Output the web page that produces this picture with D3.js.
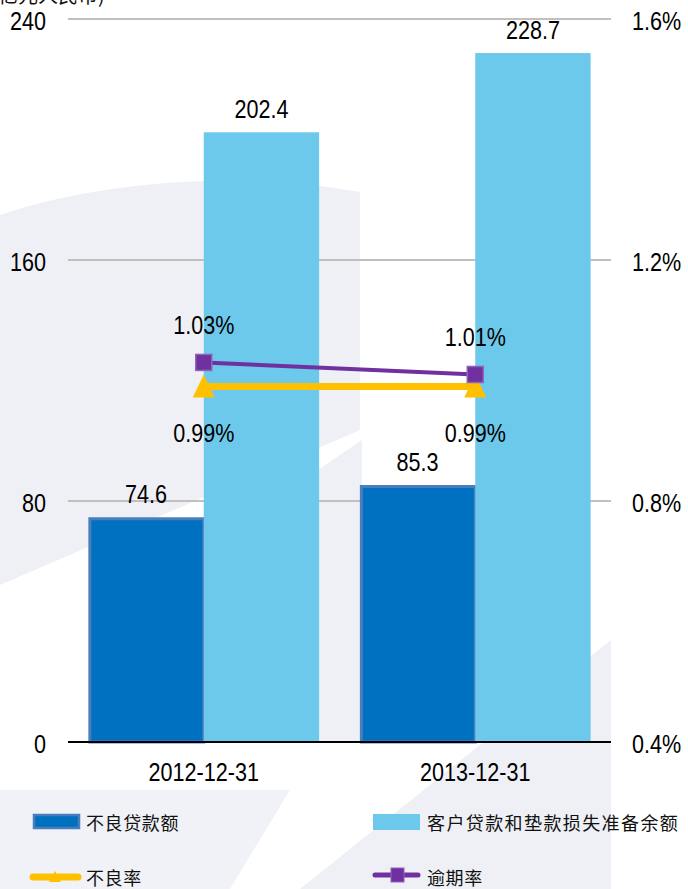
<!DOCTYPE html>
<html>
<head>
<meta charset="utf-8">
<script src="https://cdn.jsdelivr.net/npm/d3@7/dist/d3.min.js"></script>
<style>
html,body{margin:0;padding:0;background:#fff;}
svg{display:block;}
.num{font-family:"Liberation Sans",Arial,sans-serif;font-size:26px;fill:#000;}
.cjk{font-family:"Noto Sans CJK SC",sans-serif;font-size:18px;fill:#111;}
</style>
</head>
<body>
<svg id="chart" width="688" height="889"></svg>
<script>
const categories = ["2012-12-31", "2013-12-31"];
const nplAmount = [74.6, 85.3];
const provision = [202.4, 228.7];
const nplRatio = [0.99, 0.99];
const overdueRatio = [1.03, 1.01];
const leftTicks = [0, 80, 160, 240];
const rightTicks = [0.4, 0.8, 1.2, 1.6];
const seriesNames = ["不良贷款额", "客户贷款和垫款损失准备余额", "不良率", "逾期率"];
const unitLabel = "亿元人民币)";

(function () {
const svg = d3.select("#chart");
const pL = 68, pR = 611, pT = 19, pB = 742;
const SX = 0.83; // narrow look of the reference's number font

// place a number text with horizontal compression
function place(sel, xf, yf) {
  return sel.attr("class", "num")
    .attr("transform", (d, i) => `translate(${xf(d, i)},${yf(d, i)}) scale(${SX},1)`);
}

// faint watermark background
const bg = svg.append("g");
bg.append("path").attr("d", "M0,215 C110,178 250,172 360,192 L360,430 L0,585 Z").attr("fill", "#eef0f6");
bg.append("path").attr("d", "M300,889 L611,640 L611,889 Z").attr("fill", "#eef0f6");
bg.append("path").attr("d", "M318,470 L362,440 L362,742 L318,742 Z").attr("fill", "#eef0f6");
bg.append("path").attr("d", "M0,790 L290,790 L230,889 L0,889 Z").attr("fill", "#f1f2f7");

const y = d3.scaleLinear().domain([0, 240]).range([pB, pT]);
const yR = d3.scaleLinear().domain([0.4, 1.6]).range([pB, pT]);
const x0 = d3.scaleBand().domain(categories).range([pL, pR]).paddingInner(0.15).paddingOuter(0.075);
const x1 = d3.scaleBand().domain([0, 1]).range([0, x0.bandwidth()]);
const cx = c => x0(c) + x0.bandwidth() / 2;

// gridlines
svg.append("g").selectAll("line").data(leftTicks.filter(t => t > 0)).join("line")
  .attr("x1", pL).attr("x2", pR).attr("y1", d => y(d)).attr("y2", d => y(d))
  .attr("stroke", "#c4bfbf").attr("stroke-width", 2);

// left ticks
place(svg.append("g").selectAll("text").data(leftTicks).join("text"), () => 46, d => y(d) + 11)
  .attr("text-anchor", "end").text(d => d);
// right ticks
place(svg.append("g").selectAll("text").data(rightTicks).join("text"), () => 632, d => yR(d) + 11)
  .text(d => d.toFixed(1) + "%");

// bars
const bars = svg.append("g");
bars.selectAll("rect.npl").data(categories).join("rect").attr("class", "npl")
  .attr("x", c => x0(c) + x1(0) + 1.5).attr("width", x1.bandwidth() - 1.5)
  .attr("y", (c, i) => y(nplAmount[i]) + 1.5).attr("height", (c, i) => pB - y(nplAmount[i]) - 1.5)
  .attr("fill", "#0070c0").attr("stroke", "#4a7dbb").attr("stroke-width", 3);
bars.selectAll("rect.prov").data(categories).join("rect").attr("class", "prov")
  .attr("x", c => x0(c) + x1(1)).attr("width", x1.bandwidth())
  .attr("y", (c, i) => y(provision[i])).attr("height", (c, i) => pB - y(provision[i]))
  .attr("fill", "#6dc9ec");

// bar labels
const lblG = svg.append("g");
place(lblG.selectAll("text.nl").data(categories).join("text"),
  c => x0(c) + x1(0) + x1.bandwidth() / 2, (c, i) => y(nplAmount[i]) - 14)
  .attr("text-anchor", "middle").text((c, i) => nplAmount[i].toFixed(1));
const lblG2 = svg.append("g");
place(lblG2.selectAll("text").data(categories).join("text"),
  c => x0(c) + x1(1) + x1.bandwidth() / 2, (c, i) => y(provision[i]) - 14)
  .attr("text-anchor", "middle").text((c, i) => provision[i].toFixed(1));

// axis baseline
svg.append("line").attr("x1", pL).attr("x2", pR).attr("y1", pB).attr("y2", pB)
  .attr("stroke", "#000").attr("stroke-width", 2);

// category labels
place(svg.append("g").selectAll("text").data(categories).join("text"), c => cx(c), () => pB + 39)
  .attr("text-anchor", "middle").text(c => c);

// lines
const line = d3.line();
const nplPts = categories.map((c, i) => [cx(c), yR(nplRatio[i])]);
const ovdPts = categories.map((c, i) => [cx(c), yR(overdueRatio[i])]);
svg.append("path").attr("d", line(nplPts)).attr("fill", "none").attr("stroke", "#ffc000").attr("stroke-width", 7);
svg.append("g").selectAll("path").data(nplPts).join("path")
  .attr("d", d => `M${d[0]},${d[1] - 12}L${d[0] + 11},${d[1] + 11}L${d[0] - 11},${d[1] + 11}Z`)
  .attr("fill", "#ffc000");
svg.append("path").attr("d", line(ovdPts)).attr("fill", "none").attr("stroke", "#7030a0").attr("stroke-width", 4);
svg.append("g").selectAll("rect").data(ovdPts).join("rect")
  .attr("x", d => d[0] - 8).attr("y", d => d[1] - 8).attr("width", 16).attr("height", 16)
  .attr("fill", "#7030a0").attr("stroke", "#8e64bb").attr("stroke-width", 1.5);

// line labels
place(svg.append("g").selectAll("text").data(categories).join("text"),
  c => cx(c), (c, i) => yR(overdueRatio[i]) - 28)
  .attr("text-anchor", "middle").text((c, i) => overdueRatio[i].toFixed(2) + "%");
place(svg.append("g").selectAll("text").data(categories).join("text"),
  c => cx(c), (c, i) => yR(nplRatio[i]) + 55)
  .attr("text-anchor", "middle").text((c, i) => nplRatio[i].toFixed(2) + "%");

// unit label (cut off at top)
svg.append("text").attr("class", "cjk").attr("x", -2).attr("y", 3).style("font-size", "20px").text(unitLabel);

// legend
const lg = svg.append("g");
lg.append("rect").attr("x", 34).attr("y", 815).attr("width", 45).attr("height", 13)
  .attr("fill", "#0070c0").attr("stroke", "#4a7dbb").attr("stroke-width", 2.5);
lg.append("rect").attr("x", 373).attr("y", 814).attr("width", 47).attr("height", 16).attr("fill", "#6dc9ec");
lg.append("line").attr("x1", 33).attr("x2", 78).attr("y1", 877).attr("y2", 877)
  .attr("stroke", "#ffc000").attr("stroke-width", 7).attr("stroke-linecap", "round");
lg.append("path").attr("d", "M55,871L61,882L49,882Z").attr("fill", "#ffc000");
lg.append("line").attr("x1", 375).attr("x2", 418).attr("y1", 875).attr("y2", 875)
  .attr("stroke", "#7030a0").attr("stroke-width", 5).attr("stroke-linecap", "round");
lg.append("rect").attr("x", 391).attr("y", 868).attr("width", 13).attr("height", 14)
  .attr("fill", "#7030a0").attr("stroke", "#8e64bb").attr("stroke-width", 1);
const legPos = [[86, 830], [427, 830], [86, 885], [427, 885]];
lg.selectAll("text").data(seriesNames).join("text").attr("class", "cjk")
  .attr("x", (d, i) => legPos[i][0]).attr("y", (d, i) => legPos[i][1])
  .style("letter-spacing", (d, i) => i === 1 ? "1.4px" : "0.6px")
  .text(d => d);
})();
</script>
</body>
</html>
